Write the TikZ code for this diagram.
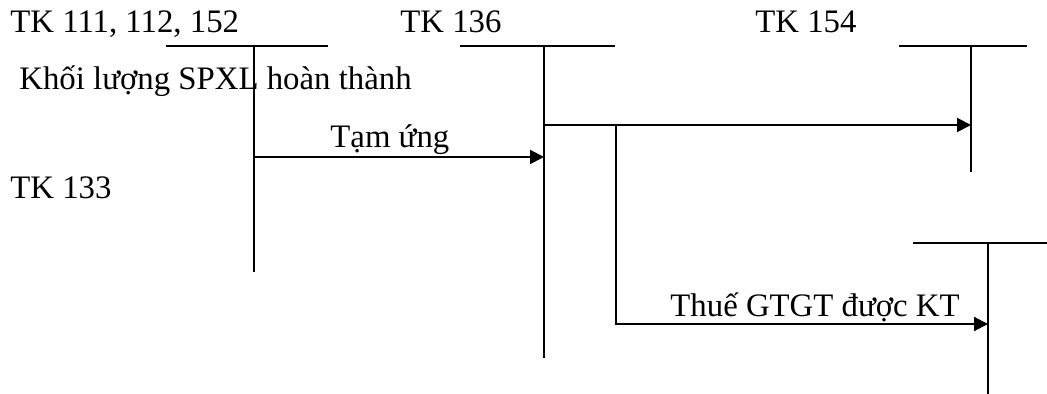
\documentclass[tikz,border=0pt]{standalone}
\usepackage{fontspec}
\setmainfont{Liberation Serif}
\usetikzlibrary{arrows.meta, positioning, calc}

\begin{document}
\begin{tikzpicture}[
    x=0.5pt, y=-0.5pt,
    txt/.style={inner sep=0pt, anchor=base west, font=\fontsize{16.4}{19}\selectfont},
    acc/.style={draw, line width=1pt},
    line/.style={draw, -{Triangle[length=7pt, width=7pt]}, line width=1pt}
]
    \useasboundingbox (0,0) rectangle (1047,394);

    % Account tops and bottoms
    \coordinate (t111) at (254,46);
    \coordinate (t136) at (544,46);
    \coordinate (t154) at (971,46);
    \coordinate (t133) at (988,243);
    \coordinate (b111) at (254,272);
    \coordinate (b136) at (544,358);
    \coordinate (b154) at (971,172);
    \coordinate (b133) at (988,394);

    % Account titles
    \node [txt] (n111) at (10,33) {TK 111, 112, 152};
    \node [txt] (n136) at (400,33) {TK 136};
    \node [txt] (n154) at (755,33) {TK 154};
    \node [txt] (n133) at (10,199) {TK 133};
    \node [txt] (kl) at (19,90) {Khối lượng SPXL hoàn thành};

    % T accounts
    \path [acc] ($(t111)+(-88,0)$) -- ($(t111)+(74,0)$);
    \path [acc] (t111) -- (b111);
    \path [acc] ($(t136)+(-84,0)$) -- ($(t136)+(71,0)$);
    \path [acc] (t136) -- (b136);
    \path [acc] ($(t154)+(-72,0)$) -- ($(t154)+(56,0)$);
    \path [acc] (t154) -- (b154);
    \path [acc] ($(t133)+(-75,0)$) -- ($(t133)+(59,0)$);
    \path [acc] (t133) -- (b133);

    % Rows of the entries
    \coordinate (row1) at (0,125);
    \coordinate (row2) at (0,157);
    \coordinate (row3) at (0,324);
    \coordinate (j1) at (616,125);

    % Entries
    \path [line] (t111 |- row2) -- (t136 |- row2);
    \node [txt] (tu) at (330,148) {Tạm ứng};
    \path [line] (t136 |- row1) -- (t154 |- row1);
    \path [line] (j1) |- (t133 |- row3);
    \node [txt] (vat) at (670,317) {Thuế GTGT được KT};
\end{tikzpicture}
\end{document}
